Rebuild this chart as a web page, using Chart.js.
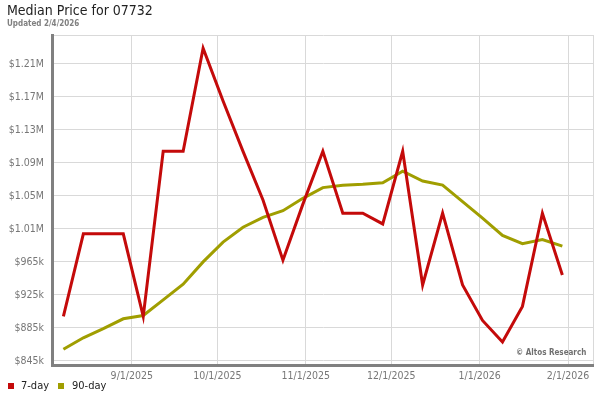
<!DOCTYPE html>
<html>
<head>
<meta charset="utf-8">
<script src="https://cdn.jsdelivr.net/npm/chart.js@4.4.1/dist/chart.umd.min.js"></script>
<style>
    body { margin: 0; background: #fff; font-family: "DejaVu Sans Condensed", "DejaVu Sans", sans-serif; }
    #cadre { position: relative; width: 600px; height: 400px; }
    #titre { position: absolute; left: 7px; top: 2px; font-size: 14px; color: #222; }
    #maj { position: absolute; left: 7px; top: 19px; font-size: 8px; font-weight: bold; color: #808080; }
    .legende { position: absolute; top: 379px; font-size: 11px; color: #222; }
    .carre { position: absolute; top: 383px; width: 6px; height: 6px; }
    #copyright { position: absolute; left: 516px; top: 348px; font-size: 8px; font-weight: bold; color: #707070; }
    canvas { position: absolute; left: 0; top: 0; }
</style>
</head>
<body>
<div id="cadre">
    <canvas id="graphiquePrix" width="600" height="400"></canvas>
    <div id="titre">Median Price for 07732</div>
    <div id="maj">Updated 2/4/2026</div>
    <div class="carre" style="left:8px; background:#c40a0a"></div>
    <div class="legende" style="left:21px">7-day</div>
    <div class="carre" style="left:58px; background:#a09e00"></div>
    <div class="legende" style="left:72px">90-day</div>
    <div id="copyright">&copy; Altos Research</div>
</div>
<script>
const dates = ["2025-08-08", "2025-08-15", "2025-08-22", "2025-08-29", "2025-09-05", "2025-09-12",
    "2025-09-19", "2025-09-26", "2025-10-03", "2025-10-10", "2025-10-17", "2025-10-24", "2025-10-31",
    "2025-11-07", "2025-11-14", "2025-11-21", "2025-11-28", "2025-12-05", "2025-12-12", "2025-12-19",
    "2025-12-26", "2026-01-02", "2026-01-09", "2026-01-16", "2026-01-23", "2026-01-30"];
const septJours = [899000, 999000, 999000, 999000, 899000, 1099000, 1099000, 1224000, 1160000, 1099000,
    1040000, 967000, 1035000, 1099000, 1024000, 1024000, 1011000, 1099000, 937000, 1024000,
    937000, 894000, 868000, 911000, 1024000, 949000];
const quatreVingtDixJours = [859000, 873000, 884000, 896000, 900000, 919000, 938000, 965000, 989000, 1007000,
    1019000, 1027000, 1042000, 1055000, 1058000, 1059000, 1061000, 1075000, 1063000, 1058000,
    1038000, 1018000, 997000, 987000, 992000, 984000];
const xTickDates = ["2025-09-01", "2025-10-01", "2025-11-01", "2025-12-01", "2026-01-01", "2026-02-01"];
const xTickLabels = ["9/1/2025", "10/1/2025", "11/1/2025", "12/1/2025", "1/1/2026", "2/1/2026"];
const yTickValues = [845000, 885000, 925000, 965000, 1005000, 1045000, 1085000, 1125000, 1165000, 1205000];
const yTickLabels = ["$845k", "$885k", "$925k", "$965k", "$1.01M", "$1.05M", "$1.09M", "$1.13M", "$1.17M", "$1.21M"];

function jour(d) {
    return Date.parse(d + "T00:00:00Z") / 86400000;
}

const xMin = jour("2025-08-04");
const xMax = jour("2026-02-09") + 0.75;
const yMin = 840000;
const yMax = 1240000;
const xTicks = xTickDates.map(jour);
const policeAxes = "'DejaVu Sans Condensed', 'DejaVu Sans', sans-serif";

function points(valeurs) {
    return valeurs.map(function(v, i) {
        return { x: jour(dates[i]), y: v };
    });
}

const ctx = document.getElementById("graphiquePrix");
new Chart(ctx, {
    type: "line",
    data: {
        datasets: [{
            label: "7-day",
            data: points(septJours),
            borderColor: "#c40a0a",
            borderWidth: 3,
            pointRadius: 0,
            tension: 0
        }, {
            label: "90-day",
            data: points(quatreVingtDixJours),
            borderColor: "#a09e00",
            borderWidth: 3,
            pointRadius: 0,
            tension: 0
        }]
    },
    options: {
        responsive: false,
        animation: false,
        layout: {
            padding: { top: 35, right: 7, left: 0, bottom: 0 }
        },
        plugins: {
            legend: { display: false },
            tooltip: { enabled: false }
        },
        scales: {
            x: {
                type: "linear",
                min: xMin,
                max: xMax,
                afterBuildTicks: function(scale) {
                    scale.ticks = xTicks.concat([xMax]).map(function(v) { return { value: v }; });
                },
                afterFit: function(scale) {
                    scale.height = 35;
                },
                ticks: {
                    autoSkip: false,
                    maxRotation: 0,
                    padding: 5,
                    color: "#777",
                    font: { family: policeAxes, size: 10.5 },
                    callback: function(value) {
                        const i = xTicks.indexOf(value);
                        return i >= 0 ? xTickLabels[i] : "";
                    }
                },
                grid: {
                    color: "#d9d9d9",
                    lineWidth: 1,
                    drawTicks: false
                },
                border: { color: "#808080", width: 3 }
            },
            y: {
                min: yMin,
                max: yMax,
                afterBuildTicks: function(scale) {
                    scale.ticks = yTickValues.concat([yMax]).map(function(v) { return { value: v }; });
                },
                afterFit: function(scale) {
                    scale.width = 52;
                },
                ticks: {
                    autoSkip: false,
                    padding: 8,
                    color: "#777",
                    font: { family: policeAxes, size: 10.5 },
                    callback: function(value) {
                        const i = yTickValues.indexOf(value);
                        return i >= 0 ? yTickLabels[i] : "";
                    }
                },
                grid: {
                    color: "#d9d9d9",
                    lineWidth: 1,
                    drawTicks: false
                },
                border: { color: "#808080", width: 3 }
            }
        }
    }
});
</script>
</body>
</html>
